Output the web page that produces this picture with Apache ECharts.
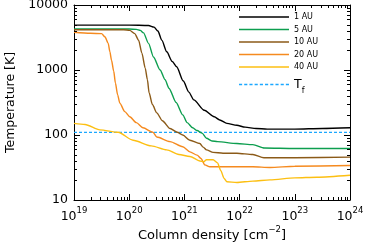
<!DOCTYPE html>
<html><head><meta charset="utf-8">
<script src="https://cdn.jsdelivr.net/npm/echarts@6/dist/echarts.min.js"></script>
<style>html,body{margin:0;padding:0;background:#fff}#c{width:368px;height:245px}</style>
</head><body><div id="c"></div>
<script>
// Column density given as log10(N [cm^-2]); temperature in K
const logN_1AU = [19, 20.0, 20.35, 20.45, 20.52, 20.59, 20.68, 20.78, 20.86, 20.98, 21.08, 21.17, 21.36, 21.54, 21.64, 21.77, 21.95, 22.1, 22.3, 22.5, 23.0, 23.5, 24];
const T_1AU    = [4900, 4900, 4840, 4570, 3980, 2880, 1905, 1350, 1120, 676, 457, 347, 240, 191, 170, 151, 141, 132, 126, 123, 123, 126, 129];

const logN_5AU = [19, 20.0, 20.13, 20.2, 20.26, 20.35, 20.44, 20.56, 20.65, 20.72, 20.85, 20.97, 21.05, 21.15, 21.23, 21.32, 21.4, 21.5, 21.6, 21.95, 22.24, 22.45, 23, 24];
const T_5AU    = [4270, 4270, 4220, 4070, 3720, 2570, 1585, 1000, 708, 525, 316, 204, 155, 129, 117, 107, 89, 81, 79, 74, 71, 63, 62, 62];

const logN_10AU = [19, 19.9, 20.01, 20.1, 20.17, 20.23, 20.29, 20.33, 20.36, 20.42, 20.5, 20.6, 20.74, 20.87, 20.97, 21.1, 21.28, 21.34, 21.4, 21.52, 21.7, 21.95, 22.24, 22.44, 23, 24];
const T_10AU    = [4170, 4170, 4070, 3630, 2880, 1820, 1070, 708, 447, 295, 219, 166, 126, 110, 100, 83, 74, 65, 59, 54, 52.5, 52.5, 50, 44.7, 44.7, 45.7];

const logN_20AU = [19, 19.3, 19.5, 19.56, 19.62, 19.65, 19.68, 19.72, 19.75, 19.79, 19.83, 19.92, 20.01, 20.13, 20.25, 20.43, 20.5, 20.74, 20.97, 21.1, 21.23, 21.3, 21.37, 21.46, 21.64, 21.95, 22.24, 22.55, 23, 24];
const T_20AU    = [3800, 3670, 3630, 3240, 2570, 1905, 1410, 955, 631, 417, 309, 229, 191, 155, 129, 110, 93, 79, 66, 55, 49, 43.6, 34.7, 32.4, 32.4, 32.4, 32.4, 31.6, 33.1, 33.9];

const logN_40AU = [19, 19.2, 19.47, 19.8, 20.07, 20.4, 20.68, 20.9, 21.1, 21.28, 21.35, 21.4, 21.52, 21.6, 21.66, 21.72, 21.77, 21.95, 22.24, 22.55, 23, 23.4, 24];
const T_40AU    = [151, 145, 120, 110, 83, 68, 59, 50, 46.8, 39.8, 38.9, 41.7, 41.7, 37.2, 28.2, 21.4, 19.1, 18.6, 19.5, 20.4, 21.9, 22.4, 24.0];

const T_f = 110;
const seriesNames = ['1 AU', '5 AU', '10 AU', '20 AU', '40 AU', 'Tf'];
const xExponents = [19, 20, 21, 22, 23, 24];
const yTickValues = [10, 100, 1000, 10000];
const minorMult = [2, 3, 4, 5, 6, 7, 8, 9];

const colors = ['#000000', '#0d9e4f', '#8b5a18', '#f58a1f', '#fcbf12', '#1ca8ff'];
const xMin = Math.pow(10, xExponents[0]), xMax = Math.pow(10, xExponents[xExponents.length - 1]);
const yMin = yTickValues[0], yMax = yTickValues[yTickValues.length - 1];

function pairs(logN, T) { return logN.map((n, i) => [Math.pow(10, n), T[i]]); }
const curves = [[logN_1AU, T_1AU], [logN_5AU, T_5AU], [logN_10AU, T_10AU], [logN_20AU, T_20AU], [logN_40AU, T_40AU]];

// minor tick positions (log decoration)
const minorData = [];
for (let e = xExponents[0]; e < xExponents[xExponents.length - 1]; e++)
  minorMult.forEach(m => minorData.push([m * Math.pow(10, e), yMin, 0]));
for (let v = yMin; v < yMax; v *= 10)
  minorMult.forEach(m => minorData.push([xMin, m * v, 1]));

const FONT = 'DejaVu Sans';
const series = curves.map((c, i) => ({
  name: seriesNames[i], type: 'line', data: pairs(c[0], c[1]),
  symbol: 'none', showSymbol: false, smooth: 0.25, smoothMonotone: 'x',
  lineStyle: { color: colors[i], width: 1.4 }, itemStyle: { color: colors[i] },
  z: 3, clip: true
}));
series.push({
  name: 'Tf', type: 'line', data: [[xMin, T_f], [xMax, T_f]], symbol: 'none', showSymbol: false,
  lineStyle: { color: colors[5], width: 1.2, type: [3, 2] }, itemStyle: { color: colors[5] }, z: 2
});
series.push({
  name: 'minor', type: 'custom', data: minorData, silent: true, clip: false, z: 5,
  dimensions: ['x', 'y', 'k'], encode: { x: 0, y: 1 },
  renderItem: function (params, api) {
    const k = api.value(2);
    const st = { stroke: '#000', lineWidth: 1 };
    if (k === 0) {
      const p = api.coord([api.value(0), yMin]);
      const q = api.coord([api.value(0), yMax]);
      const x = Math.round(p[0]) + 0.5;
      return { type: 'group', children: [
        { type: 'line', shape: { x1: x, y1: p[1], x2: x, y2: p[1] - 3 }, style: st },
        { type: 'line', shape: { x1: x, y1: q[1], x2: x, y2: q[1] + 3 }, style: st }
      ]};
    } else {
      const p = api.coord([xMin, api.value(1)]);
      const q = api.coord([xMax, api.value(1)]);
      const y = Math.round(p[1]) + 0.5;
      return { type: 'group', children: [
        { type: 'line', shape: { x1: p[0], y1: y, x2: p[0] + 3, y2: y }, style: st },
        { type: 'line', shape: { x1: q[0], y1: y, x2: q[0] - 3, y2: y }, style: st }
      ]};
    }
  }
});

// legend icons: solid line (rect) and dashed line (path of dashes)
let dashPath = 'path://';
for (let i = 0; i < 10; i++) dashPath += 'M' + (i * 5) + ',0h3v1.2h-3z';
const legendData = seriesNames.map(n => ({ name: n, icon: n === 'Tf' ? dashPath : 'rect' }));

const axisLine = { show: true, onZero: false, lineStyle: { color: '#000', width: 1 } };
const tick = { show: true, inside: true, length: 6, lineStyle: { color: '#000', width: 1 } };

const chart = echarts.init(document.getElementById('c'), null, { renderer: 'canvas' });
chart.setOption({
  animation: false,
  backgroundColor: '#fff',
  grid: { left: 74, right: 18, top: 5, bottom: 45, containLabel: false, outerBoundsMode: 'none' },
  legend: {
    data: legendData, orient: 'vertical', left: 239, top: 12,
    itemWidth: 50, itemHeight: 1.4, itemGap: 2.5, padding: 0, symbolKeepAspect: false,
    itemStyle: { borderWidth: 0 },
    textStyle: {
      fontFamily: FONT, fontSize: 8, lineHeight: 10, color: '#000',
      rich: {
        t: { fontFamily: FONT, fontSize: 12.5, lineHeight: 20, color: '#000', verticalAlign: 'middle' },
        f: { fontFamily: FONT, fontSize: 8, lineHeight: 8, color: '#000', verticalAlign: 'bottom' }
      }
    },
    formatter: n => n === 'Tf' ? '{t|T}{f|f}' : n
  },
  xAxis: [{
    type: 'log', logBase: 10, min: xMin, max: xMax, splitNumber: 5, position: 'bottom',
    axisLine: axisLine, axisTick: tick, splitLine: { show: false }, minorTick: { show: false },
    axisLabel: {
      margin: 6, color: '#000', showMinLabel: true, showMaxLabel: true,
      formatter: v => '{b|10}{s|' + Math.round(Math.log10(v)) + '}',
      rich: {
        b: { fontFamily: FONT, fontSize: 12.5, lineHeight: 17, verticalAlign: 'bottom', color: '#000' },
        s: { fontFamily: FONT, fontSize: 8.5, lineHeight: 10, verticalAlign: 'top', color: '#000' }
      }
    },
    name: '{a|Column density [cm}{s|−2}{a|]}', nameLocation: 'middle', nameGap: 25, nameMoveOverlap: false,
    nameTextStyle: {
      rich: {
        a: { fontFamily: FONT, fontSize: 13, lineHeight: 17, verticalAlign: 'bottom', color: '#000' },
        s: { fontFamily: FONT, fontSize: 8.5, lineHeight: 10, verticalAlign: 'top', color: '#000' }
      }
    }
  }, {
    type: 'log', logBase: 10, min: xMin, max: xMax, splitNumber: 5, position: 'top',
    axisLine: axisLine, axisTick: tick, axisLabel: { show: false }, splitLine: { show: false }
  }],
  yAxis: [{
    type: 'log', logBase: 10, min: yMin, max: yMax, splitNumber: 3, position: 'left',
    axisLine: axisLine, axisTick: tick, splitLine: { show: false },
    axisLabel: { margin: 6, fontFamily: FONT, fontSize: 12.5, color: '#000', formatter: v => String(Math.round(v)) },
    name: 'Temperature [K]', nameLocation: 'middle', nameGap: 55, nameRotate: 90,
    nameTextStyle: { fontFamily: FONT, fontSize: 12.5, color: '#000' }
  }, {
    type: 'log', logBase: 10, min: yMin, max: yMax, splitNumber: 3, position: 'right',
    axisLine: axisLine, axisTick: tick, axisLabel: { show: false }, splitLine: { show: false }
  }],
  series: series
});
</script></body></html>
